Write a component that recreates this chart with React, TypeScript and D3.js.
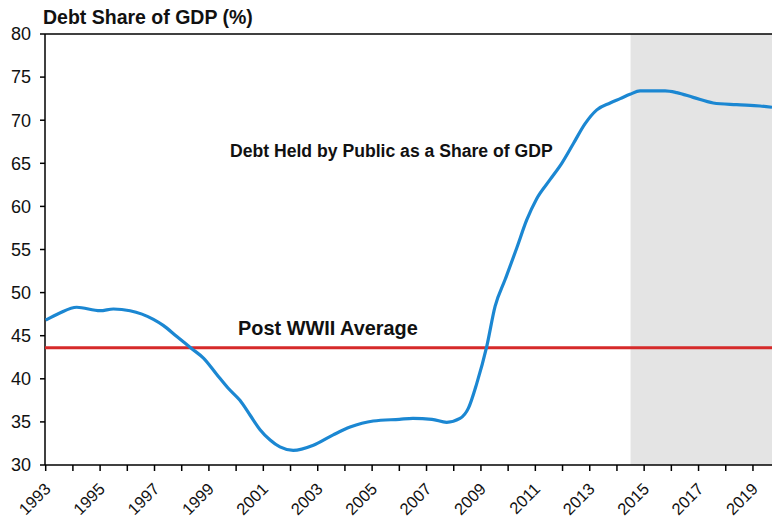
import React from "react";
import * as d3 from "d3";

const years = [1993.0, 1993.5, 1994.14, 1995.0, 1995.49, 1996.1, 1996.96, 1997.32, 1997.82, 1998.37, 1998.8, 1999.29, 1999.71, 2000.14, 2000.51, 2000.88, 2001.25, 2001.61, 2002.1, 2002.84, 2003.57, 2004.19, 2005.04, 2006.0, 2006.5, 2007.2, 2007.74, 2008.23, 2008.54, 2008.85, 2009.21, 2009.52, 2009.9, 2010.32, 2010.68, 2011.05, 2011.54, 2011.97, 2012.4, 2012.83, 2013.26, 2013.75, 2014.12, 2014.48, 2014.85, 2015.77, 2016.2, 2016.8, 2017.54, 2018.4, 2019.26, 2019.7];
const debtShare = [46.8, 47.6, 48.3, 47.9, 48.1, 47.9, 46.9, 46.2, 44.9, 43.5, 42.4, 40.5, 38.9, 37.5, 35.8, 34.1, 32.9, 32.1, 31.7, 32.3, 33.5, 34.4, 35.1, 35.3, 35.4, 35.3, 34.95, 35.4, 36.6, 39.5, 43.7, 48.4, 51.6, 55.2, 58.4, 60.9, 63.1, 65.0, 67.3, 69.6, 71.2, 72.0, 72.5, 73.0, 73.4, 73.4, 73.2, 72.65, 72.0, 71.8, 71.65, 71.5];
const postWWIIAverage = 43.6;
const projectionStart = 2014.5;
const yTicks = [30, 35, 40, 45, 50, 55, 60, 65, 70, 75, 80];
const xTickYears = d3.range(1993, 2020);
const xLabelYears = [1993, 1995, 1997, 1999, 2001, 2003, 2005, 2007, 2009, 2011, 2013, 2015, 2017, 2019];

const W = 772;
const H = 520;
const left = 45;
const right = 772;
const top = 34;
const bottom = 465;
const font = "'Liberation Sans', Arial, sans-serif";

export default function App() {
  const x = d3.scaleLinear().domain([1993, 2019.7]).range([45.7, right]);
  const y = d3.scaleLinear().domain([30, 80]).range([bottom, top]);
  const line = d3
    .line<number>()
    .x((_, i) => x(years[i]))
    .y((d) => y(d))
    .curve(d3.curveMonotoneX);

  return (
    <svg
      width={W}
      height={H}
      style={{ position: "absolute", left: 0, top: 0, background: "#fff" }}
      fontFamily={font}
    >
      <rect x={x(projectionStart)} y={top} width={right - x(projectionStart)} height={bottom - top} fill="#e4e4e4" />
      <line x1={left} x2={right} y1={top} y2={top} stroke="#000" strokeWidth={1.5} />
      <line x1={left} x2={left} y1={top} y2={bottom} stroke="#000" strokeWidth={1.5} />
      <line x1={left} x2={right} y1={bottom} y2={bottom} stroke="#000" strokeWidth={1.5} />
      {yTicks.map((t) => (
        <g key={t}>
          <line x1={left - 5} x2={left} y1={y(t)} y2={y(t)} stroke="#000" strokeWidth={1.5} />
          <text x={31} y={y(t)} dy="0.35em" textAnchor="end" fontSize={18} fill="#111">
            {t}
          </text>
        </g>
      ))}
      {xTickYears.map((t) => (
        <line key={t} x1={x(t)} x2={x(t)} y1={bottom} y2={bottom + 6} stroke="#000" strokeWidth={1.5} />
      ))}
      {xLabelYears.map((t) => (
        <text
          key={t}
          transform={`translate(${x(t) + 6},${bottom + 25}) rotate(-45)`}
          textAnchor="end"
          fontSize={16.5}
          fill="#111"
        >
          {t}
        </text>
      ))}
      <line x1={left} x2={right} y1={y(postWWIIAverage)} y2={y(postWWIIAverage)} stroke="#d62a2a" strokeWidth={3} />
      <path d={line(debtShare) || ""} fill="none" stroke="#1b87d2" strokeWidth={3.2} strokeLinejoin="round" />
      <text x={43} y={24} fontSize={19.5} fontWeight="bold" fill="#111">
        Debt Share of GDP (%)
      </text>
      <text x={230} y={157} fontSize={17.6} fontWeight="bold" fill="#111">
        Debt Held by Public as a Share of GDP
      </text>
      <text x={238} y={335} fontSize={19.9} fontWeight="bold" fill="#111">
        Post WWII Average
      </text>
    </svg>
  );
}
